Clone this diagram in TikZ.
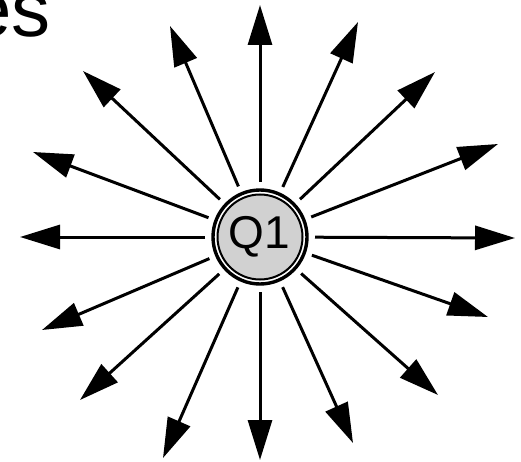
\documentclass[tikz,border=0pt]{standalone}
\usepackage{fontspec}
\setmainfont{Liberation Sans}
\usetikzlibrary{arrows.meta,calc}
\tikzset{
  fieldline/.style={line width=3pt, -{Triangle[length=40pt,width=24pt]}},
  chargering/.style={circle, draw, line width=3.4pt, minimum size=94pt, inner sep=0pt},
}
\begin{document}
\begin{tikzpicture}[x=1pt,y=1pt]
\useasboundingbox (0,0) rectangle (521,461);
\fill[white] (0,0) rectangle (521,461);
\clip (0,0) rectangle (521,461);
% cut-off title text
\node[anchor=base west, inner sep=0pt] (title) at (-32,424) {\fontsize{78}{80}\selectfont es};
% charge
\node[chargering] (q) at (260,224) {};
\node[circle, draw, line width=2pt, fill=black!18, minimum size=85pt, inner sep=0pt] (qin) at (260,224) {};
\node (qlabel) at (259,224) {\fontsize{46}{48}\selectfont Q1};
% arrow tips
\coordinate (t0) at (515,223);
\coordinate (t1) at (498,317);
\coordinate (t2) at (435,389);
\coordinate (t3) at (358,439);
\coordinate (t4) at (260,456);
\coordinate (t5) at (170,435);
\coordinate (t6) at (83,390);
\coordinate (t7) at (33,309);
\coordinate (t8) at (20,224);
\coordinate (t9) at (42,131);
\coordinate (t10) at (80,61);
\coordinate (t11) at (163,3);
\coordinate (t12) at (260,1);
\coordinate (t13) at (353,18);
\coordinate (t14) at (438,66);
\coordinate (t15) at (488,144);
\foreach \i in {0,...,15} {
  \draw[fieldline] ($(q)!55pt!(t\i)$) -- (t\i);
}
\end{tikzpicture}
\end{document}
